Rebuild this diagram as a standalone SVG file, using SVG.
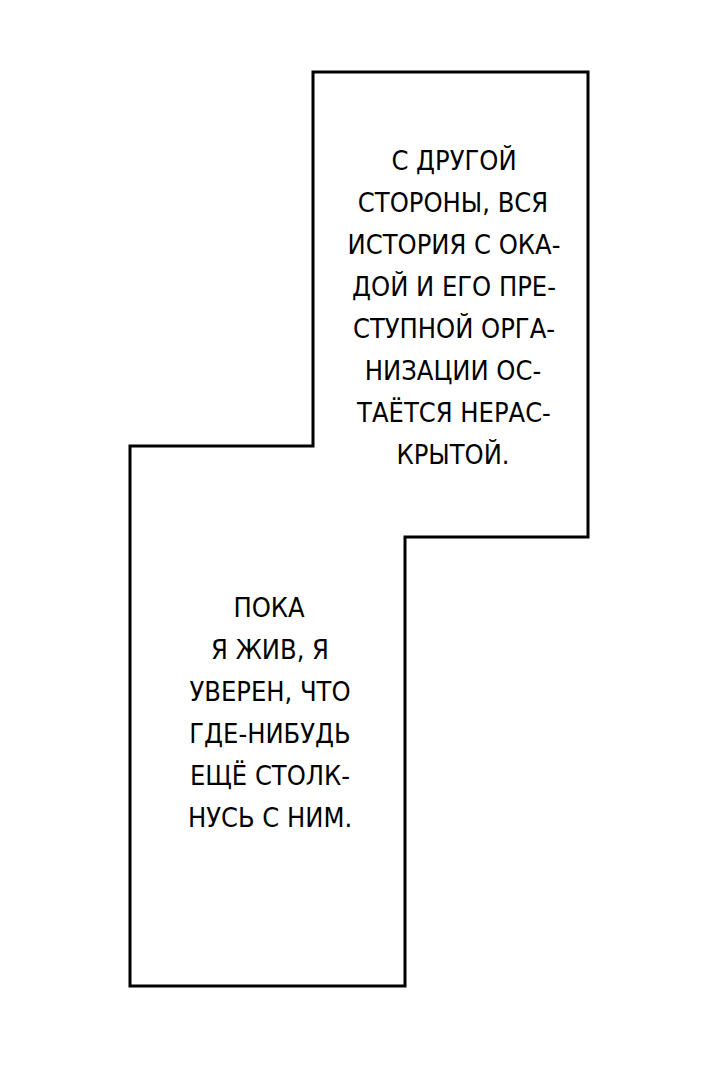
<svg xmlns="http://www.w3.org/2000/svg" width="720" height="1069" viewBox="0 0 720 1069">
<style>
.t{font-family:"DejaVu Sans Condensed","DejaVu Sans",sans-serif;font-size:27px;fill:#000;text-anchor:middle}
</style>
<rect width="720" height="1069" fill="#fff"/>
<polygon points="313,72 588,72 588,537 405,537 405,986 130,986 130,446 313,446" fill="#fff" stroke="#000" stroke-width="3"/>
<g id="text1" class="t">
<text x="454" y="170">С ДРУГОЙ</text>
<text x="453" y="212">СТОРОНЫ, ВСЯ</text>
<text x="454" y="254">ИСТОРИЯ С ОКА-</text>
<text x="454" y="296">ДОЙ И ЕГО ПРЕ-</text>
<text x="454" y="338">СТУПНОЙ ОРГА-</text>
<text x="453" y="380">НИЗАЦИИ ОС-</text>
<text x="454" y="422">ТАЁТСЯ НЕРАС-</text>
<text x="453" y="464">КРЫТОЙ.</text>
</g>
<g id="text2" class="t">
<text x="269" y="617">ПОКА</text>
<text x="270" y="659">Я ЖИВ, Я</text>
<text x="270" y="701">УВЕРЕН, ЧТО</text>
<text x="270" y="743">ГДЕ-НИБУДЬ</text>
<text x="270" y="785">ЕЩЁ СТОЛК-</text>
<text x="270" y="827">НУСЬ С НИМ.</text>
</g>
</svg>
